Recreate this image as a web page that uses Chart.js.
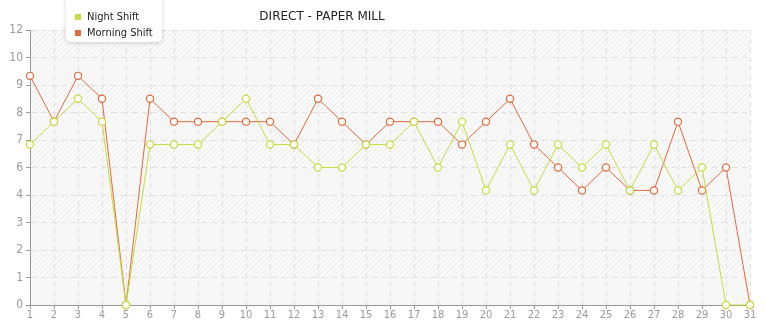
<!DOCTYPE html>
<html>
<head>
<meta charset="utf-8">
<script src="https://cdn.jsdelivr.net/npm/chart.js@4/dist/chart.umd.min.js"></script>
<style>
  html, body { margin: 0; padding: 0; background: #fff; }
  #wrap { position: relative; width: 765px; height: 320px; }
</style>
</head>
<body>
<div id="wrap"><canvas id="millChart" width="765" height="320"></canvas></div>
<script>
// chart data
const days = ['1','2','3','4','5','6','7','8','9','10','11','12','13','14','15','16',
  '17','18','19','20','21','22','23','24','25','26','27','28','29','30','31'];
const nightShift = [7, 8, 9, 8, 0, 7, 7, 7, 8, 9, 7, 7, 6, 6, 7, 7,
  8, 6, 8, 5, 7, 5, 7, 6, 7, 5, 7, 5, 6, 0, 0];
const morningShift = [10, 8, 10, 9, 0, 9, 8, 8, 8, 8, 8, 7, 9, 8, 7, 8,
  8, 8, 7, 8, 9, 7, 6, 5, 6, 5, 5, 8, 5, 6, 0];
const yTickLabels = ['0', '1', '2', '3', '4', '6', '7', '8', '9', '10', '12'];

const chartTitle = 'DIRECT - PAPER MILL';
const nightColor = '#c3dd3c';
const morningColor = '#e4693a';
const uiFont = '"DejaVu Sans Condensed", "DejaVu Sans", sans-serif';

// hatched background pattern
const makeHatch = (bg, line) => {
  const c = document.createElement('canvas');
  c.width = 5; c.height = 5;
  const g = c.getContext('2d');
  g.fillStyle = bg;
  g.fillRect(0, 0, 5, 5);
  g.strokeStyle = line;
  g.lineWidth = 1;
  g.beginPath();
  g.moveTo(-1, 6); g.lineTo(6, -1);
  g.moveTo(-3, 3); g.lineTo(3, -3);
  g.moveTo(2, 8); g.lineTo(8, 2);
  g.stroke();
  return c;
};

const bgPlugin = {
  id: 'bgBands',
  beforeDraw(chart) {
    const { ctx, chartArea: a, scales } = chart;
    const strong = ctx.createPattern(makeHatch('#fafafa', '#e9e9e9'), 'repeat');
    const soft = ctx.createPattern(makeHatch('#f8f8f8', '#f0f0f0'), 'repeat');
    const ticks = scales.y.ticks;
    ctx.save();
    for (let i = 0; i < ticks.length - 1; i++) {
      const y0 = scales.y.getPixelForValue(ticks[i].value);
      const y1 = scales.y.getPixelForValue(ticks[i + 1].value);
      ctx.fillStyle = i % 2 === 1 ? strong : soft;
      ctx.fillRect(a.left, y1, a.right - a.left, y0 - y1);
    }
    ctx.restore();
  }
};

const overlayPlugin = {
  id: 'boxLegend',
  afterDraw(chart) {
    const ctx = chart.ctx;
    ctx.save();
    // title
    ctx.font = '12px "DejaVu Sans", sans-serif';
    ctx.fillStyle = '#222';
    ctx.textAlign = 'center';
    ctx.textBaseline = 'middle';
    ctx.fillText(chartTitle, 322, 17);
    // legend box
    const x = 66, y = -6, w = 96, h = 48;
    ctx.shadowColor = 'rgba(0,0,0,0.18)';
    ctx.shadowBlur = 5;
    ctx.shadowOffsetY = 1;
    ctx.fillStyle = '#fff';
    ctx.beginPath();
    ctx.roundRect(x, y, w, h, 5);
    ctx.fill();
    ctx.shadowColor = 'transparent';
    ctx.font = '11px ' + uiFont;
    ctx.textAlign = 'left';
    chart.data.datasets.forEach((ds, i) => {
      const ry = 17 + i * 16;
      ctx.fillStyle = ds.borderColor;
      ctx.fillRect(75, ry - 3, 6, 6);
      ctx.fillStyle = '#222';
      ctx.fillText(ds.label, 87, ry);
    });
    ctx.restore();
  }
};

const makeSeries = (label, data, color) => ({
  label: label,
  data: data,
  borderColor: color,
  backgroundColor: '#fff',
  borderWidth: 1,
  pointRadius: 3.6,
  pointBorderWidth: 1.2,
  pointBackgroundColor: '#fff',
  pointBorderColor: color,
  tension: 0
});

const ctx = document.getElementById('millChart').getContext('2d');
new Chart(ctx, {
  type: 'line',
  data: {
    labels: days,
    datasets: [
      makeSeries('Night Shift', nightShift, nightColor),
      makeSeries('Morning Shift', morningShift, morningColor)
    ]
  },
  options: {
    responsive: false,
    animation: false,
    clip: false,
    layout: { padding: { top: 30, right: 15, left: 0, bottom: 0 } },
    plugins: {
      legend: { display: false },
      tooltip: { enabled: false },
      title: { display: false }
    },
    scales: {
      x: {
        offset: false,
        border: { color: '#999', width: 1, dash: [5, 4] },
        grid: {
          color: '#dedede',
          tickColor: '#999',
          tickLength: 4
        },
        ticks: {
          color: '#999',
          padding: 0,
          maxRotation: 0,
          autoSkip: false,
          font: { family: uiFont, size: 11 }
        },
        afterFit(scale) { scale.height = 15; }
      },
      y: {
        min: 0,
        max: 12,
        border: { color: '#999', width: 1, dash: [6, 4] },
        grid: {
          color: '#e0e0e0',
          tickColor: '#999',
          tickLength: 4
        },
        ticks: {
          stepSize: 1.2,
          color: '#999',
          padding: 3,
          font: { family: uiFont, size: 12 },
          callback: (value, index) => yTickLabels[index]
        },
        afterFit(scale) { scale.width = 30; }
      }
    }
  },
  plugins: [bgPlugin, overlayPlugin]
});
</script>
</body>
</html>
